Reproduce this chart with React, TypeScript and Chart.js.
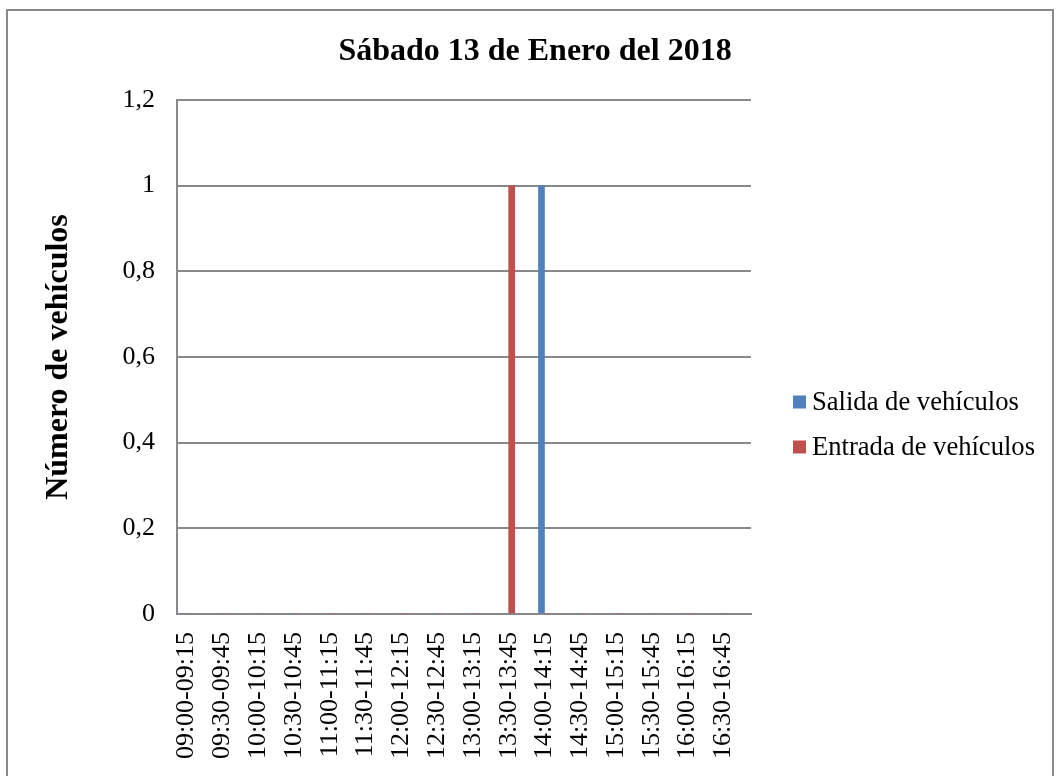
import React, { useEffect, useRef } from 'react';
import { Chart, registerables } from 'chart.js';

Chart.register(...registerables);

const chartTitle = 'Sábado 13 de Enero del 2018';
const yAxisTitle = 'Número de vehículos';

const categories = [
  '09:00-09:15', '09:30-09:45', '10:00-10:15', '10:30-10:45',
  '11:00-11:15', '11:30-11:45', '12:00-12:15', '12:30-12:45',
  '13:00-13:15', '13:30-13:45', '14:00-14:15', '14:30-14:45',
  '15:00-15:15', '15:30-15:45', '16:00-16:15', '16:30-16:45',
];

const seriesNames = ['Salida de vehículos', 'Entrada de vehículos'];
const salidaValues = [0, 0, 0, 0, 0, 0, 0, 0, 0, 0, 1, 0, 0, 0, 0, 0];
const entradaValues = [0, 0, 0, 0, 0, 0, 0, 0, 0, 1, 0, 0, 0, 0, 0, 0];
const seriesColors = ['#4F81BD', '#C0504D'];

const yTickLabels = ['0', '0,2', '0,4', '0,6', '0,8', '1', '1,2'];

const FONT = 'Liberation Serif';
const AXIS_GRAY = '#898989';

const overlayPlugin = {
  id: 'excelOverlay',
  afterDraw(chart: any) {
    const ctx = chart.ctx;
    ctx.save();
    ctx.fillStyle = '#000';
    ctx.font = `bold 32px "${FONT}"`;
    ctx.textAlign = 'center';
    ctx.textBaseline = 'middle';
    ctx.fillText(chartTitle, 535, 52);

    ctx.font = `26.6px "${FONT}"`;
    ctx.textAlign = 'left';
    chart.data.datasets.forEach((ds: any, i: number) => {
      const cy = 402 + i * 45;
      ctx.fillStyle = ds.backgroundColor;
      ctx.fillRect(793, cy - 6.5, 13, 13);
      ctx.fillStyle = '#000';
      ctx.fillText(ds.label, 812, cy + 1);
    });
    ctx.restore();
  },
};

export default function App() {
  const canvasRef = useRef<HTMLCanvasElement | null>(null);

  useEffect(() => {
    const canvas = canvasRef.current;
    if (!canvas) return;
    const chart = new Chart(canvas, {
      type: 'bar',
      data: {
        datasets: [
          {
            label: seriesNames[0],
            data: salidaValues.map((v, i) => ({ x: i, y: v })),
            backgroundColor: seriesColors[0],
            borderWidth: 0,
            barThickness: 6,
          },
          {
            label: seriesNames[1],
            data: entradaValues.map((v, i) => ({ x: i, y: v })),
            backgroundColor: seriesColors[1],
            borderWidth: 0,
            barThickness: 6,
          },
        ],
      },
      options: {
        responsive: false,
        animation: false,
        devicePixelRatio: 1,
        layout: { padding: { left: 0, top: 100, right: 309, bottom: 0 } },
        plugins: {
          legend: { display: false },
          title: { display: false },
          tooltip: { enabled: false },
        },
        scales: {
          x: {
            type: 'linear',
            offset: false,
            min: -0.265,
            max: 15.769,
            afterBuildTicks: (scale: any) => {
              scale.ticks = categories.map((_, i) => ({ value: i }));
            },
            afterFit: (scale: any) => {
              scale.height = 162;
            },
            grid: { display: false, drawTicks: false },
            border: { display: true, color: AXIS_GRAY, width: 2 },
            ticks: {
              autoSkip: false,
              minRotation: 90,
              maxRotation: 90,
              padding: 18,
              color: '#000',
              font: { family: FONT, size: 26 },
              callback: (v: any) => categories[Math.round(Number(v))] ?? '',
            },
          },
          y: {
            type: 'linear',
            min: 0,
            max: 1.2,
            afterFit: (scale: any) => {
              scale.width = 177;
            },
            ticks: {
              stepSize: 0.2,
              padding: 22,
              color: '#000',
              font: { family: FONT, size: 26 },
              callback: (_v: any, i: number) => yTickLabels[i],
            },
            grid: { color: AXIS_GRAY, lineWidth: 2, drawTicks: false },
            border: { display: true, color: AXIS_GRAY, width: 2 },
            title: {
              display: true,
              text: yAxisTitle,
              color: '#000',
              font: { family: FONT, size: 32, weight: 'bold' },
              padding: { top: 40, bottom: 0 },
            },
          },
        },
      } as any,
      plugins: [overlayPlugin],
    });
    return () => chart.destroy();
  }, []);

  return (
    <>
      <div
        style={{
          position: 'fixed',
          left: 6,
          top: 9,
          width: 1048,
          height: 900,
          border: `2px solid ${AXIS_GRAY}`,
          boxSizing: 'border-box',
          background: '#fff',
        }}
      />
      <canvas
        ref={canvasRef}
        width={1060}
        height={776}
        style={{ position: 'fixed', left: 0, top: 0, width: 1060, height: 776, display: 'block' }}
      />
    </>
  );
}
